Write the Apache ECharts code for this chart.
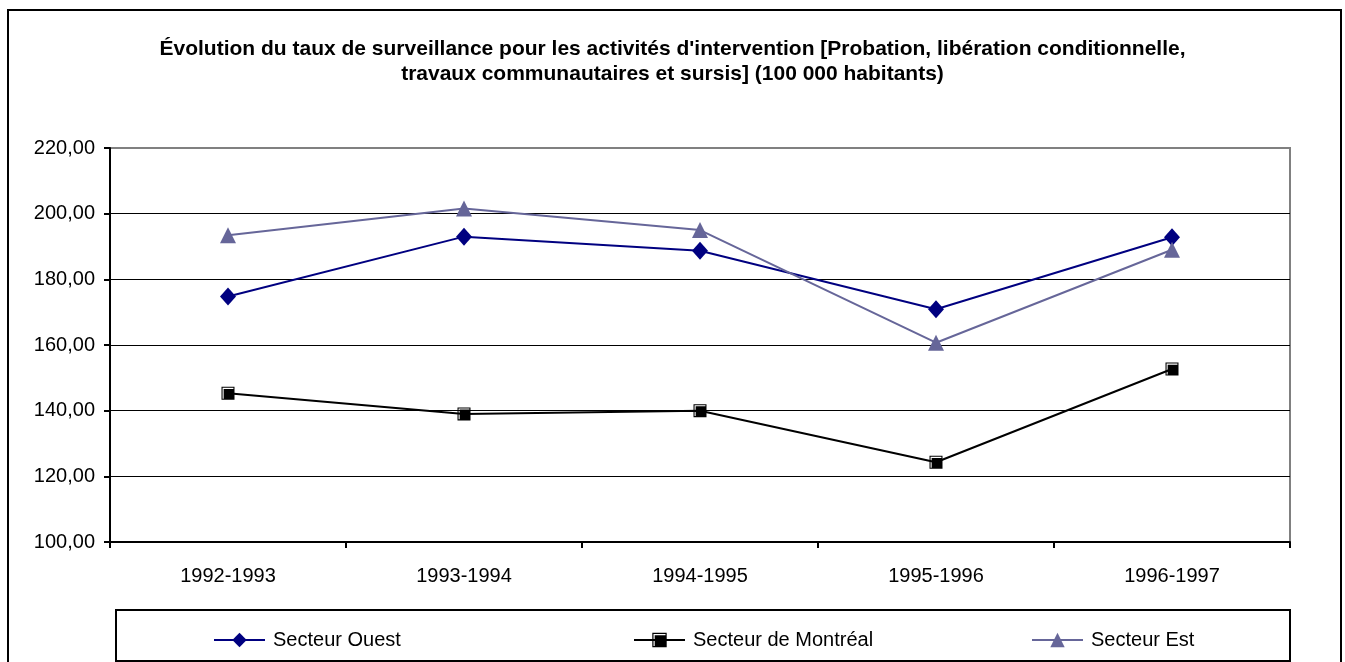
<!DOCTYPE html>
<html><head><meta charset="utf-8">
<script src="https://cdn.jsdelivr.net/npm/echarts@6/dist/echarts.min.js"></script>
<style>html,body{margin:0;padding:0;background:#fff}#c{width:1345px;height:662px}</style>
</head><body><div id="c"></div>
<script>
const categories = ['1992-1993', '1993-1994', '1994-1995', '1995-1996', '1996-1997'];
const ouest = [174.8, 193.0, 188.7, 170.9, 192.8];
const montreal = [145.3, 139.0, 140.0, 124.3, 152.7];
const est = [193.4, 201.6, 195.0, 160.7, 189.0];
const seriesNames = ['Secteur Ouest', 'Secteur de Montréal', 'Secteur Est'];
const yMin = 100, yMax = 220, yStep = 20;
const titleText = "Évolution du taux de surveillance pour les activités d'intervention [Probation, libération conditionnelle,\ntravaux communautaires et sursis] (100 000 habitants)";

const FONT = "'Liberation Sans', Arial, sans-serif";
const squarePath = 'path://M0,0H12V12H0Z M1,1V11H11V1Z M2,2H11V11H2Z';

function legendAt(name, left) {
  return {
    data: [name], left: left, top: 630, orient: 'horizontal',
    itemWidth: 51, itemHeight: 18, padding: 0,
    lineStyle: { width: 2 },
    textStyle: { fontFamily: FONT, fontSize: 20, color: '#000', padding: [0, 0, 0, 3] },
    selectedMode: false
  };
}

const chart = echarts.init(document.getElementById('c'), null, { renderer: 'canvas' });
chart.setOption({
  animation: false,
  backgroundColor: '#fff',
  title: {
    text: titleText, left: 'center', top: 37, padding: 0,
    textStyle: { fontFamily: FONT, fontSize: 21, fontWeight: 'bold', color: '#000', lineHeight: 25, align: 'center' }
  },
  graphic: [
    { type: 'rect', shape: { x: 8, y: 10, width: 1333, height: 700 }, style: { fill: 'none', stroke: '#000', lineWidth: 2 }, silent: true },
    { type: 'rect', shape: { x: 116, y: 610, width: 1174, height: 51 }, style: { fill: 'none', stroke: '#000', lineWidth: 2 }, silent: true }
  ],
  legend: [legendAt(seriesNames[0], 213), legendAt(seriesNames[1], 633), legendAt(seriesNames[2], 1031)],
  grid: { left: 110, top: 148, width: 1180, height: 394, show: true, borderColor: '#808080', borderWidth: 2, backgroundColor: 'transparent' },
  xAxis: {
    type: 'category', data: categories, boundaryGap: true,
    axisLine: { lineStyle: { color: '#000', width: 2 } },
    axisTick: { show: true, length: 6, lineStyle: { color: '#000', width: 2 } },
    axisLabel: { fontFamily: FONT, fontSize: 20, color: '#000', margin: 24 },
    splitLine: { show: false }
  },
  yAxis: {
    type: 'value', min: yMin, max: yMax, interval: yStep,
    axisLine: { show: true, lineStyle: { color: '#000', width: 2 } },
    axisTick: { show: true, length: 6, lineStyle: { color: '#000', width: 2 } },
    axisLabel: { fontFamily: FONT, fontSize: 20, color: '#000', margin: 15, formatter: v => v.toFixed(2).replace('.', ',') },
    splitLine: { show: true, lineStyle: { color: ['#000', '#000', '#000', '#000', '#000', '#000', '#808080'], width: 1 } }
  },
  series: [
    { name: seriesNames[0], type: 'line', data: ouest, symbol: 'diamond', symbolSize: [16, 18],
      lineStyle: { color: '#000080', width: 2 }, itemStyle: { color: '#000080' } },
    { name: seriesNames[1], type: 'line', data: montreal, symbol: squarePath, symbolSize: 13,
      lineStyle: { color: '#000000', width: 2 }, itemStyle: { color: '#000000' } },
    { name: seriesNames[2], type: 'line', data: est, symbol: 'triangle', symbolSize: 16,
      lineStyle: { color: '#666699', width: 2 }, itemStyle: { color: '#666699' } }
  ]
});
</script></body></html>
